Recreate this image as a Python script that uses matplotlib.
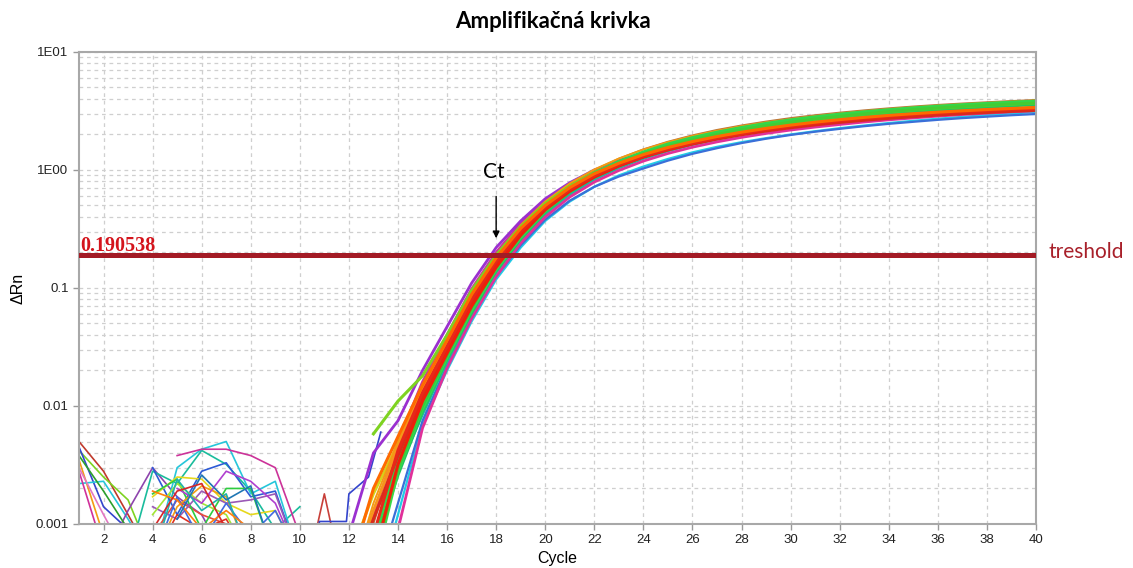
import numpy as np
import matplotlib
matplotlib.use('Agg')
import matplotlib.pyplot as plt
from matplotlib.ticker import FixedLocator, LogLocator, NullFormatter

plt.rcParams['font.family'] = ['Liberation Sans', 'DejaVu Sans']

nan = np.nan

# amplification curves, values at cycles 12..40
amp_cycles = list(range(12, 41))
amp_colors = ['#22cce6', '#3a6fd8', '#1abc9c', '#e0309a', '#cc3399', '#9b30d0',
              '#d4d41a', '#b8733a', '#f39c12', '#22c55e', '#3ad84a', '#2ecc40',
              '#7ed321', '#32d74b', '#44cc33', '#f7941d', '#d92b1c', '#f01e0a',
              '#e8281a', '#ff6a00']
amp_widths = [1.6, 1.6, 2.0, 2.0, 2.0, 2.0,
              2.0, 1.2, 1.4, 2.2, 2.2, 2.2,
              2.2, 2.2, 2.2, 2.2, 2.2, 2.2,
              2.2, 2.2]
amp_values = [
    [0.0001, 0.0002, 0.0012, 0.007, 0.020, 0.052, 0.118, 0.22, 0.37, 0.54, 0.72, 0.90, 1.07, 1.24, 1.41, 1.57, 1.72, 1.86, 2.00, 2.13, 2.26, 2.38, 2.50, 2.61, 2.72, 2.82, 2.92, 3.01, 3.10],
    [0.0001, 0.0003, 0.0015, 0.0075, 0.022, 0.056, 0.125, 0.23, 0.38, 0.55, 0.72, 0.88, 1.03, 1.20, 1.37, 1.53, 1.69, 1.84, 1.98, 2.11, 2.23, 2.35, 2.46, 2.56, 2.66, 2.75, 2.83, 2.91, 2.98],
    [0.0004, 0.0012, 0.0028, 0.0085, 0.024, 0.060, 0.135, 0.25, 0.42, 0.62, 0.83, 1.04, 1.25, 1.45, 1.64, 1.82, 1.99, 2.15, 2.30, 2.44, 2.57, 2.70, 2.82, 2.93, 3.03, 3.13, 3.22, 3.30, 3.38],
    [nan, 0.0002, 0.0009, 0.0065, 0.021, 0.055, 0.125, 0.24, 0.40, 0.59, 0.79, 0.99, 1.19, 1.38, 1.56, 1.73, 1.89, 2.04, 2.18, 2.31, 2.43, 2.55, 2.66, 2.76, 2.86, 2.95, 3.03, 3.11, 3.18],
    [0.0002, 0.0012, 0.005, 0.016, 0.040, 0.098, 0.20, 0.35, 0.54, 0.75, 0.96, 1.17, 1.36, 1.55, 1.73, 1.90, 2.06, 2.21, 2.35, 2.48, 2.60, 2.71, 2.81, 2.91, 3.00, 3.08, 3.15, 3.21, 3.27],
    [0.0008, 0.004, 0.0075, 0.020, 0.047, 0.11, 0.22, 0.37, 0.57, 0.78, 1.00, 1.20, 1.40, 1.58, 1.76, 1.93, 2.09, 2.24, 2.38, 2.51, 2.63, 2.74, 2.84, 2.94, 3.03, 3.11, 3.18, 3.24, 3.29],
    [0.0005, 0.0018, 0.0048, 0.014, 0.034, 0.085, 0.18, 0.32, 0.51, 0.73, 0.95, 1.17, 1.37, 1.57, 1.76, 1.94, 2.11, 2.27, 2.42, 2.56, 2.69, 2.81, 2.92, 3.02, 3.11, 3.19, 3.27, 3.33, 3.38],
    [0.0002, 0.0010, 0.0045, 0.014, 0.035, 0.088, 0.185, 0.33, 0.53, 0.76, 1.00, 1.25, 1.50, 1.74, 1.97, 2.19, 2.39, 2.58, 2.76, 2.92, 3.07, 3.21, 3.34, 3.46, 3.57, 3.67, 3.76, 3.85, 3.93],
    [0.0003, 0.0015, 0.005, 0.015, 0.037, 0.092, 0.19, 0.34, 0.54, 0.77, 1.01, 1.25, 1.49, 1.72, 1.94, 2.15, 2.35, 2.53, 2.70, 2.86, 3.01, 3.15, 3.28, 3.40, 3.51, 3.61, 3.70, 3.79, 3.88],
    [0.0002, 0.0006, 0.0026, 0.009, 0.025, 0.062, 0.14, 0.26, 0.44, 0.65, 0.87, 1.09, 1.31, 1.52, 1.72, 1.91, 2.09, 2.26, 2.42, 2.57, 2.71, 2.85, 2.98, 3.10, 3.21, 3.31, 3.41, 3.50, 3.58],
    [0.0001, 0.0004, 0.0028, 0.0095, 0.026, 0.065, 0.145, 0.27, 0.45, 0.66, 0.89, 1.12, 1.35, 1.57, 1.78, 1.98, 2.17, 2.35, 2.52, 2.68, 2.83, 2.97, 3.10, 3.22, 3.33, 3.43, 3.52, 3.61, 3.70],
    [0.0003, 0.0006, 0.003, 0.010, 0.027, 0.068, 0.15, 0.28, 0.46, 0.68, 0.92, 1.16, 1.40, 1.63, 1.85, 2.06, 2.26, 2.44, 2.61, 2.77, 2.92, 3.06, 3.19, 3.31, 3.42, 3.52, 3.62, 3.71, 3.80],
    [nan, 0.0058, 0.011, 0.018, 0.040, 0.095, 0.19, 0.33, 0.52, 0.73, 0.95, 1.16, 1.39, 1.61, 1.82, 2.02, 2.21, 2.39, 2.56, 2.72, 2.87, 3.01, 3.14, 3.26, 3.37, 3.47, 3.56, 3.64, 3.72],
    [0.0002, 0.0007, 0.0036, 0.012, 0.030, 0.074, 0.16, 0.29, 0.48, 0.70, 0.94, 1.18, 1.42, 1.66, 1.88, 2.09, 2.29, 2.48, 2.66, 2.82, 2.97, 3.11, 3.24, 3.36, 3.47, 3.57, 3.66, 3.75, 3.83],
    [0.0001, 0.0005, 0.003, 0.0105, 0.028, 0.070, 0.155, 0.285, 0.47, 0.68, 0.91, 1.14, 1.37, 1.59, 1.80, 2.00, 2.19, 2.37, 2.54, 2.70, 2.85, 2.99, 3.12, 3.24, 3.35, 3.45, 3.54, 3.62, 3.69],
    [0.0003, 0.0013, 0.0045, 0.014, 0.034, 0.084, 0.175, 0.31, 0.49, 0.70, 0.91, 1.12, 1.32, 1.51, 1.69, 1.87, 2.04, 2.20, 2.35, 2.49, 2.62, 2.74, 2.85, 2.95, 3.05, 3.14, 3.22, 3.29, 3.36],
    [0.0003, 0.0011, 0.0038, 0.012, 0.030, 0.075, 0.16, 0.29, 0.47, 0.67, 0.88, 1.09, 1.29, 1.48, 1.66, 1.83, 1.99, 2.14, 2.28, 2.41, 2.53, 2.64, 2.74, 2.83, 2.92, 3.00, 3.07, 3.14, 3.20],
    [0.0001, 0.0005, 0.0032, 0.011, 0.028, 0.070, 0.15, 0.28, 0.46, 0.66, 0.87, 1.08, 1.29, 1.49, 1.68, 1.86, 2.03, 2.19, 2.34, 2.48, 2.61, 2.73, 2.84, 2.95, 3.05, 3.13, 3.21, 3.28, 3.35],
    [0.0002, 0.0008, 0.0042, 0.013, 0.032, 0.080, 0.17, 0.30, 0.48, 0.68, 0.89, 1.10, 1.30, 1.50, 1.68, 1.86, 2.03, 2.19, 2.34, 2.48, 2.61, 2.73, 2.84, 2.94, 3.03, 3.11, 3.18, 3.25, 3.31],
    [0.0004, 0.0020, 0.0055, 0.015, 0.036, 0.088, 0.18, 0.32, 0.50, 0.71, 0.93, 1.14, 1.35, 1.55, 1.74, 1.92, 2.09, 2.25, 2.40, 2.54, 2.67, 2.79, 2.90, 3.00, 3.09, 3.17, 3.25, 3.32, 3.38],
]

# background noise, values at cycles 1..10
noise_cycles = list(range(1, 11))
noise_colors = ['#c0392b', '#7ed321', '#3344cc', '#f39c12', '#26c6da', '#d0309a',
                '#8e44ad', '#1abc9c', '#26c6da', '#cc3399', '#2d5bd6', '#e74c3c',
                '#e6d81c', '#2ecc40', '#f39c12', '#9b59b6', '#e03020', '#a3e635',
                '#4169e1', '#b03fd0', '#20b2aa', '#ff7f0e', '#1f77b4', '#2ca02c',
                '#e377c2', '#d62728']
noise_values = [
    [0.005, 0.0028, 0.0012, 0.0005, nan, nan, nan, nan, nan, nan],
    [0.0042, 0.0025, 0.0016, 0.0005, nan, nan, nan, nan, nan, nan],
    [0.0045, 0.0014, 0.0009, 0.0005, nan, nan, nan, nan, nan, nan],
    [0.0035, 0.0008, 0.0005, nan, nan, nan, nan, nan, nan, nan],
    [0.0022, 0.0023, 0.0011, 0.0005, nan, nan, nan, nan, nan, nan],
    [0.0028, 0.0006, nan, nan, nan, nan, nan, nan, nan, nan],
    [0.0005, 0.0005, 0.0013, 0.003, 0.0017, 0.0012, 0.0005, nan, nan, nan],
    [nan, nan, 0.0005, 0.0028, 0.0022, 0.0042, 0.0032, 0.0019, 0.0009, 0.0014],
    [nan, nan, nan, 0.0005, 0.003, 0.0043, 0.005, 0.0018, 0.0023, 0.0005],
    [nan, nan, nan, nan, 0.0038, 0.0043, 0.0043, 0.0038, 0.003, 0.0008],
    [nan, nan, nan, 0.003, 0.0012, 0.0028, 0.0033, 0.0017, 0.0019, 0.0005],
    [nan, nan, nan, 0.0008, 0.0016, 0.0012, 0.001, 0.0005, nan, nan],
    [nan, nan, nan, 0.0017, 0.0025, 0.0024, 0.0015, 0.0012, 0.0013, 0.0005],
    [nan, nan, nan, 0.0018, 0.0024, 0.0009, 0.002, 0.002, 0.0005, nan],
    [nan, nan, nan, 0.0005, 0.0014, 0.0021, 0.0017, 0.0005, nan, nan],
    [nan, nan, nan, 0.0014, 0.0011, 0.0019, 0.0015, 0.0016, 0.0018, 0.0005],
    [nan, nan, nan, 0.0005, 0.0012, 0.0009, 0.0011, 0.0005, nan, nan],
    [nan, nan, nan, 0.0012, 0.0022, 0.0015, 0.0012, 0.0005, nan, nan],
    [nan, nan, nan, 0.0005, 0.0017, 0.0007, 0.0015, 0.0008, 0.0013, 0.0005],
    [nan, nan, nan, nan, 0.002, 0.0015, 0.0028, 0.0023, 0.0015, 0.0005],
    [nan, nan, nan, 0.0005, 0.0024, 0.0013, 0.0018, 0.0005, nan, nan],
    [nan, nan, nan, 0.0019, 0.0016, 0.0009, 0.0013, 0.0009, nan, nan],
    [nan, nan, nan, nan, 0.0011, 0.0026, 0.0016, 0.0021, 0.0005, nan],
    [0.0038, 0.0019, 0.0009, nan, nan, nan, nan, nan, nan, nan],
    [0.003, 0.0012, 0.0005, nan, nan, nan, nan, nan, nan, nan],
    [nan, nan, nan, 0.0009, 0.0019, 0.0022, 0.0009, 0.0005, nan, nan],
]

# stray traces between cycle 10 and 13
late_red_x = [10.4, 11.0, 11.5]
late_red_y = [0.0005, 0.0018, 0.0006]
late_blue_x = [10.6, 10.8, 11.9, 12.0, 12.8, 13.3]
late_blue_y = [0.0005, 0.00105, 0.00105, 0.0018, 0.0025, 0.006]

threshold = 0.190538
ct_cycle = 18

fig = plt.figure(figsize=(11.33, 5.68), dpi=100)
ax = fig.add_axes([0.0697, 0.0775, 0.8447, 0.831])
ax.set_yscale('log')

for vals, col in zip(noise_values, noise_colors):
    ax.plot(noise_cycles, vals, color=col, lw=1.2)
ax.plot(late_red_x, late_red_y, color='#c8403a', lw=1.2)
ax.plot(late_blue_x, late_blue_y, color='#3344cc', lw=1.2)

for vals, col, w in zip(amp_values, amp_colors, amp_widths):
    ax.plot(amp_cycles, vals, color=col, lw=w)

ax.axhline(threshold, color='#a31b25', lw=3.6, zorder=5)
ax.text(1.05, 0.207, '0.190538', family=['Liberation Serif', 'DejaVu Serif'],
        weight='bold', color='#d4141c', fontsize=14.5, va='baseline', zorder=6)
fig.text(0.925, 0.556, 'treshold', family=['Lato', 'DejaVu Sans'], color='#a8202a',
         fontsize=15, va='center', ha='left')

ax.text(ct_cycle - 0.1, 0.96, 'Ct', family=['Lato', 'DejaVu Sans'], fontsize=15,
        ha='center', va='center')
ax.annotate('', xy=(ct_cycle, 0.25), xytext=(ct_cycle, 0.63),
            arrowprops=dict(arrowstyle='-|>', color='black', lw=1, mutation_scale=10))

ax.set_xlim(1, 40)
ax.set_ylim(0.001, 10)
ax.xaxis.set_major_locator(FixedLocator(range(2, 41, 2)))
ax.yaxis.set_major_locator(FixedLocator([0.001, 0.01, 0.1, 1, 10]))
ax.set_yticklabels(['0.001', '0.01', '0.1', '1E00', '1E01'])
ax.yaxis.set_minor_locator(LogLocator(base=10, subs=np.arange(2, 10)))
ax.yaxis.set_minor_formatter(NullFormatter())
ax.tick_params(axis='y', which='minor', length=0)
ax.tick_params(axis='both', which='major', labelsize=9.5, colors='#999999',
               labelcolor='#222222', length=4, width=1)

ax.grid(True, axis='x', which='major', color='#cfcfcf', ls=(0, (3, 3)), lw=0.9)
ax.grid(True, axis='y', which='both', color='#cfcfcf', ls=(0, (3, 3)), lw=0.9)
ax.set_axisbelow(True)
for s in ax.spines.values():
    s.set_color('#a8a8a8')
    s.set_linewidth(1.5)

ax.set_ylabel('ΔRn', fontsize=11.5)
ax.yaxis.set_label_coords(-0.056, 0.5)
ax.set_xlabel('Cycle', fontsize=11.5)
ax.xaxis.set_label_coords(0.5, -0.058)

fig.text(0.488, 0.963, 'Amplifikačná krivka', family=['Lato', 'DejaVu Sans'],
         weight='bold', fontsize=16, ha='center', va='center')

fig.savefig('out.png', dpi=100)
